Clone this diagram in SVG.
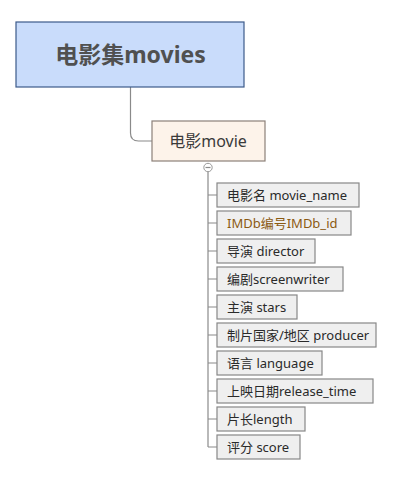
<svg xmlns="http://www.w3.org/2000/svg" width="417" height="477" viewBox="0 0 417 477">
<style>
text{font-family:"Noto Sans","Noto Sans CJK SC",sans-serif;}
.root rect{fill:#c9dcfb;stroke:#3d5a8a;stroke-width:1.2}
.root text{font-size:23px;font-weight:bold;fill:#505050}
.main rect{fill:#fdf3ea;stroke:#8c8079;stroke-width:1.2}
.main text{font-size:16px;fill:#3a3a3a}
.leaf rect{fill:#efefef;stroke:#878787;stroke-width:1.2}
.leaf text{font-size:13px;fill:#2a2a2a;dominant-baseline:central}
.conn path{fill:none;stroke:#8a8a8a;stroke-width:1.2}
</style>
<g class="conn">
<path d="M130.5,87 V133 Q130.5,141 138.5,141 H152"/>
<path d="M208,172 V447"/>
<path d="M208,195 H217 M208,223 H217 M208,251 H217 M208,279 H217 M208,307 H217 M208,335 H217 M208,363 H217 M208,391 H217 M208,419 H217 M208,447 H217"/>
<circle cx="208" cy="167.5" r="4.2" fill="#fff" stroke="#999" stroke-width="1"/>
<path d="M205.5,167.5 H210.5" stroke="#777"/>
</g>
<g id="root" class="root"><rect x="16" y="22" width="228" height="65"/><text x="130.5" y="63" text-anchor="middle">电影集movies</text></g>
<g id="movie" class="main"><rect x="152" y="121" width="113" height="40"/><text x="208" y="147" text-anchor="middle">电影movie</text></g>
<g id="n1" class="leaf"><rect x="217" y="183" width="142" height="24"/><text x="227" y="195">电影名 movie_name</text></g>
<g id="n2" class="leaf"><rect x="217" y="211" width="134" height="24"/><text x="227" y="223" style="fill:#8b5a12">IMDb编号IMDb_id</text></g>
<g id="n3" class="leaf"><rect x="217" y="239" width="98" height="24"/><text x="227" y="251">导演 director</text></g>
<g id="n4" class="leaf"><rect x="217" y="267" width="126" height="24"/><text x="227" y="279">编剧screenwriter</text></g>
<g id="n5" class="leaf"><rect x="217" y="295" width="80" height="24"/><text x="227" y="307">主演 stars</text></g>
<g id="n6" class="leaf"><rect x="217" y="323" width="159" height="24"/><text x="227" y="335">制片国家/地区 producer</text></g>
<g id="n7" class="leaf"><rect x="217" y="351" width="105" height="24"/><text x="227" y="363">语言 language</text></g>
<g id="n8" class="leaf"><rect x="217" y="379" width="156" height="24"/><text x="227" y="391">上映日期release_time</text></g>
<g id="n9" class="leaf"><rect x="217" y="407" width="88" height="24"/><text x="227" y="419">片长length</text></g>
<g id="n10" class="leaf"><rect x="217" y="435" width="83" height="24"/><text x="227" y="447">评分 score</text></g>
</svg>
